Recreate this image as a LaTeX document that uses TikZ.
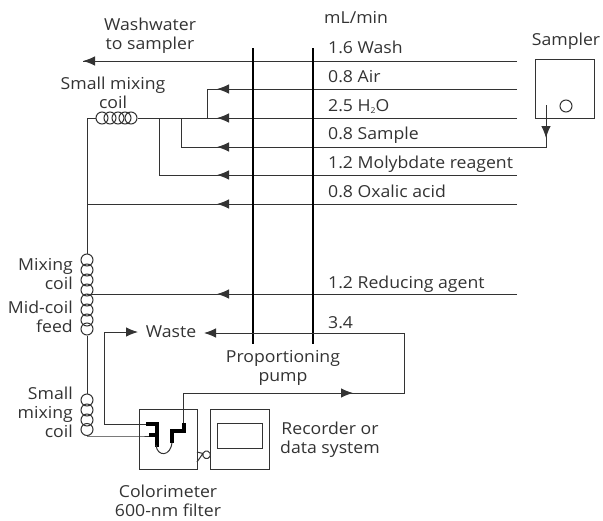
\documentclass[tikz,border=0pt]{standalone}
\usepackage{fontspec}
\setmainfont[FakeStretch=1.07]{Open Sans}
\definecolor{ink}{gray}{0.2}
\usetikzlibrary{arrows.meta,calc}
\tikzset{
 every node/.style={font=\fontsize{16.5}{19}\selectfont, text=ink, inner sep=0pt},
 pipe/.style={draw=ink, line width=1pt},
 pump/.style={draw=black, line width=1.6pt},
 box/.style={draw=ink, line width=1pt, fill=none},
 coilturn/.style={circle, draw=ink, line width=1pt, minimum size=12pt, inner sep=0pt},
 cell/.style={draw=black, line width=3.4pt, line cap=butt, line join=miter},
 tip/.style={-{Latex[length=12pt,width=9.5pt]}},
 lbl/.style={anchor=base west},
 lblc/.style={align=center, anchor=center},
 lblr/.style={align=right, anchor=east},
}
\begin{document}
\begin{tikzpicture}[x=1pt,y=-1pt]
\useasboundingbox (0,0) rectangle (603,520);
% free ends
\coordinate (washR) at (517,61);
\coordinate (airR) at (517,89);
\coordinate (waterR) at (517,118);
\coordinate (molyR) at (517,175);
\coordinate (oxalR) at (517,204);
\coordinate (reduR) at (517,294);
\coordinate (pumpAt) at (253,48); \coordinate (pumpAb) at (253,344);
\coordinate (pumpBt) at (313,48); \coordinate (pumpBb) at (313,344);
\coordinate (washL) at (83,61);
\coordinate (airL) at (207,89);
\coordinate (waterL) at (207,118);
\coordinate (tee) at (87,204);
% sampler
\node[box,minimum width=59pt,minimum height=59pt] (sampler) at (564.5,88.5) {};
\node[circle,draw=ink,line width=1pt,minimum size=12pt] (vial) at (566,106) {};
\coordinate (probe) at (546,105);
\coordinate (sampleC) at (546,147);
% coils
\foreach \i/\x in {1/102,2/110,3/118,4/125,5/131}{\node[coilturn] (top\i) at (\x,118) {};}
\foreach \i/\y in {1/260,2/270,3/280,4/290,5/300,6/310,7/320,8/329}{\node[coilturn] (mc\i) at (87,\y) {};}
\foreach \i/\y in {1/400,2/410,3/420,4/429.5}{\node[coilturn] (sc\i) at (87,\y) {};}
% boxes
\node[box,minimum width=58pt,minimum height=60pt] (colo) at (168,439) {};
\node[box,minimum width=59pt,minimum height=60pt] (rec) at (239.5,439) {};
\node[box,minimum width=45pt,minimum height=25pt] (screen) at (239.5,435.5) {};
% lines
\draw[pipe] (washR) -- (washL);
\draw[pipe] (airR) -- (airL) -- (waterL);
\draw[pipe] (waterR) -- (top5.east);
\draw[pipe] (top1.west) -- (87,118) -- (mc1.north);
\draw[pipe] (181,118) -- (181,147) -- (sampleC) -- (probe);
\draw[pipe] (159,118) -- (159,175) -- (molyR);
\draw[pipe] (oxalR) -- (tee);
\draw[pipe] (reduR) -- (87,294);
\draw[pipe] (mc8.south) -- (sc1.north);
\draw[pipe] (sc4.south) -- (sc4.south -| colo.west) -- ++(12,0);
\draw[pipe] (147,424) -- (104,424) -- (104,332);
% pump
\draw[pump] (pumpAt) -- (pumpAb);
\draw[pump] (pumpBt) -- (pumpBb);
% arrowheads
\draw[tip,pipe] (105,61) -- (83,61);
\draw[tip,pipe] (240,89) -- (217,89);
\draw[tip,pipe] (240,118) -- (217,118);
\draw[tip,pipe] (240,147) -- (217,147);
\draw[tip,pipe] (240,175) -- (217,175);
\draw[tip,pipe] (240,204) -- (217,204);
\draw[tip,pipe] (240,294) -- (217,294);
\draw[tip,pipe] (546,118) -- (546,138);
% waste
\node (waste) at (171,332) {Waste};
\draw[tip,pipe] (104,332) -- (138,332);
\coordinate (ret) at (404,333);
\draw[tip,pipe] (ret) -- (204,333);
\draw[pipe] (ret) -- (404,393) -- (183,393) -- (183,424);
\draw[tip,pipe] (330,393) -- (353,393);
% flow cell
\draw[cell] (146,424) -- (157,424) -- (157,447);
\draw[cell] (149,435) -- (157,435);
\draw[pipe] (156,445) .. controls (157,457) and (171,457) .. (172,442);
\draw[cell] (172,443) -- (172,431) -- (184,431) -- (184,423);
% connector curl
\draw[pipe] (197,452) -- (203,453.5) arc (200:-150:3.8) -- (197,462);
% labels
\node[lblc] (t1) at (150,36) {Washwater\\to sampler};
\node[lblc] (t2) at (113,93) {Small mixing\\coil};
\node[lbl] at (324,23) {mL/min};
\node[lbl] at (328,53) {1.6 Wash};
\node[lbl] at (328,82) {0.8 Air};
\node[lbl] at (328,111) {2.5 H\raisebox{-2pt}{\fontsize{8}{8}\selectfont 2}O};
\node[lbl] at (328,139) {0.8 Sample};
\node[lbl] at (328,168) {1.2 Molybdate reagent};
\node[lbl] at (328,197) {0.8 Oxalic acid};
\node[lbl] at (328,288) {1.2 Reducing agent};
\node[lbl] at (328,328) {3.4};
\node[lblc] at (566,41) {Sampler};
\node[lblr] at (73,274) {Mixing\\coil};
\node[lblr] at (73,317) {Mid-coil\\feed};
\node[lblr] at (73,412) {Small\\mixing\\coil};
\node[lblc] at (283,367.5) {Proportioning\\pump};
\node[lblc] at (330,440) {Recorder or\\data system};
\node[lblc] at (168,500.5) {Colorimeter\\600-nm filter};
\end{tikzpicture}
\end{document}
